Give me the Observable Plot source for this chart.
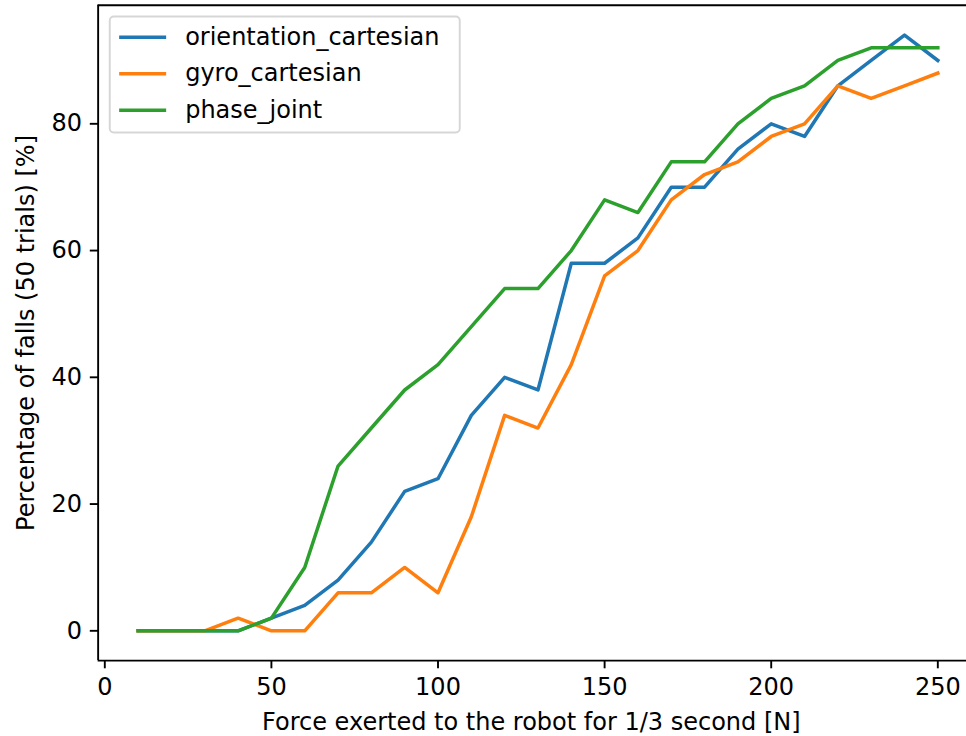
<!DOCTYPE html>
<html>
<head>
<meta charset="utf-8">
<script src="https://cdn.jsdelivr.net/npm/d3@7"></script>
<script src="https://cdn.jsdelivr.net/npm/@observablehq/plot@0.6"></script>
<style>
  html, body { margin: 0; padding: 0; background: white; overflow: hidden; }
  #chart svg { overflow: hidden; display: block; }
</style>
</head>
<body>
<div id="chart"></div>
<script>
// ---- data ----
const forces = [10, 20, 30, 40, 50, 60, 70, 80, 90, 100, 110, 120, 130, 140, 150, 160, 170, 180, 190, 200, 210, 220, 230, 240, 250];
const orientationCartesian = [0, 0, 0, 0, 2, 4, 8, 14, 22, 24, 34, 40, 38, 58, 58, 62, 70, 70, 76, 80, 78, 86, 90, 94, 90];
const gyroCartesian = [0, 0, 0, 2, 0, 0, 6, 6, 10, 6, 18, 34, 32, 42, 56, 60, 68, 72, 74, 78, 80, 86, 84, 86, 88];
const phaseJoint = [0, 0, 0, 0, 2, 10, 26, 32, 38, 42, 48, 54, 54, 60, 68, 66, 74, 74, 80, 84, 86, 90, 92, 92, 92];
const seriesNames = ["orientation_cartesian", "gyro_cartesian", "phase_joint"];
const seriesColors = ["#1f77b4", "#ff7f0e", "#2ca02c"];
const xTicks = [0, 50, 100, 150, 200, 250];
const yTicks = [0, 20, 40, 60, 80];
const xLabel = "Force exerted to the robot for 1/3 second [N]";
const yLabel = "Percentage of falls (50 trials) [%]";
const xLimits = [-2, 262];
const yLimits = [-4.7, 98.7];

// ---- build table ----
const allSeries = [orientationCartesian, gyroCartesian, phaseJoint];
const rows = [];
allSeries.forEach((vals, s) => {
  vals.forEach((v, i) => rows.push({series: seriesNames[s], force: forces[i], pct: v}));
});

const FS = 24;
const FONT = "DejaVu Sans, sans-serif";

function legendMark(index, scales, values, dimensions) {
  const g = d3.create("svg:g")
    .attr("font-family", FONT)
    .attr("font-size", FS)
    .attr("text-anchor", "start");
  const pad = 0.5 * 23.5;
  const left = dimensions.marginLeft + pad;
  const top = dimensions.marginTop + pad;
  const boxW = 350, boxH = 116;
  g.append("rect")
    .attr("x", left).attr("y", top)
    .attr("width", boxW).attr("height", boxH)
    .attr("rx", 4).attr("ry", 4)
    .attr("fill", "white").attr("fill-opacity", 0.8)
    .attr("stroke", "#cccccc").attr("stroke-opacity", 0.8)
    .attr("stroke-width", 1.9);
  seriesNames.forEach((name, i) => {
    const cy = top + 20.7 + i * 36.5;
    const hx = left + 9.4;
    g.append("line")
      .attr("x1", hx).attr("x2", hx + 47)
      .attr("y1", cy).attr("y2", cy)
      .attr("stroke", seriesColors[i]).attr("stroke-width", 3.5)
      .attr("stroke-linecap", "butt");
    g.append("text")
      .attr("x", hx + 66).attr("y", cy)
      .attr("dy", "0.32em")
      .attr("fill", "black")
      .text(name);
  });
  return g.node();
}

const chart = Plot.plot({
  width: 966,
  height: 736,
  marginLeft: 98,
  marginRight: 0,
  marginTop: 4.8,
  marginBottom: 75.9,
  style: {fontFamily: FONT, fontSize: FS + "px", color: "black", background: "white"},
  x: {domain: xLimits, range: [97.64, 977.3]},
  y: {domain: yLimits},
  color: {domain: seriesNames, range: seriesColors},
  marks: [
    Plot.line(rows, {x: "force", y: "pct", z: "series", stroke: "series", strokeWidth: 3.5, strokeLinejoin: "round", strokeLinecap: "square"}),
    Plot.ruleY([yLimits[0], yLimits[1]], {x1: xLimits[0], x2: xLimits[1], stroke: "black", strokeWidth: 1.9}),
    Plot.ruleX([xLimits[0], xLimits[1]], {y1: yLimits[0], y2: yLimits[1], stroke: "black", strokeWidth: 1.9}),
    Plot.axisX({ticks: xTicks, tickSize: 8.2, tickPadding: 9.5, strokeWidth: 1.9, label: null, fontSize: FS, tickFormat: d => String(d)}),
    Plot.axisY({ticks: yTicks, tickSize: 8.2, tickPadding: 8.2, strokeWidth: 1.9, label: null, fontSize: FS, tickFormat: d => String(d)}),
    Plot.text([xLabel], {text: d => d, frameAnchor: "bottom", x: () => 128, dy: 69, lineAnchor: "bottom", textAnchor: "middle", fontSize: FS, fill: "black"}),
    Plot.text([yLabel], {text: d => d, frameAnchor: "left", rotate: -90, dx: -72, textAnchor: "middle", lineAnchor: "middle", fontSize: FS, fill: "black"}),
    legendMark
  ]
});
document.getElementById("chart").appendChild(chart);
</script>
</body>
</html>
